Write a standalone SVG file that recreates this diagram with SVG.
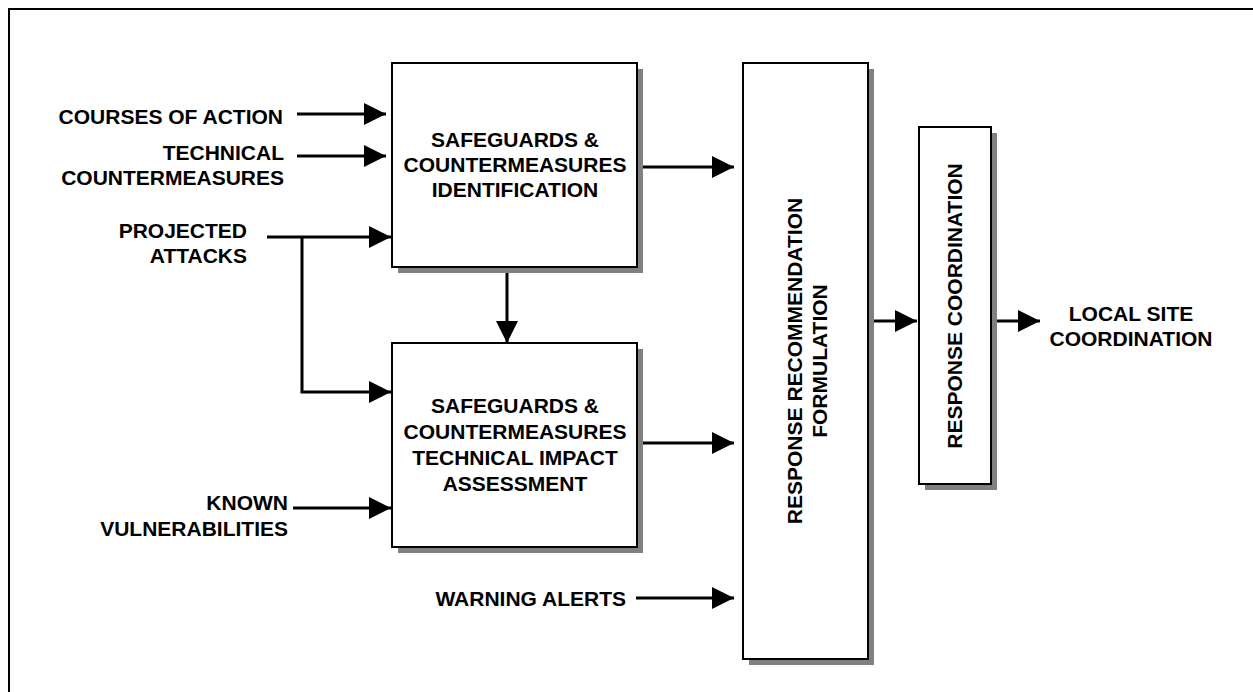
<svg xmlns="http://www.w3.org/2000/svg" width="1253" height="692" viewBox="0 0 1253 692">
<style>
text{font-family:"Liberation Sans",Arial,sans-serif;font-weight:bold;font-size:21px;fill:#000}
.box{fill:#fff;stroke:#000;stroke-width:2}
.sh{fill:#808080}
.ln{fill:none;stroke:#000;stroke-width:3}
.m{text-anchor:middle}
.e{text-anchor:end}
</style>
<defs>
<marker id="ah" markerUnits="userSpaceOnUse" markerWidth="22" markerHeight="22" refX="22" refY="11" orient="auto" viewBox="0 0 22 22">
<path d="M0,0 L22,11 L0,22 z" fill="#000"/>
</marker>
</defs>
<rect width="1253" height="692" fill="#fff"/>
<path d="M9,692 L9,9 L1253,9" fill="none" stroke="#000" stroke-width="2"/>

<g id="connectors">
<line class="ln" x1="297" y1="114" x2="386" y2="114" marker-end="url(#ah)"/>
<line class="ln" x1="297" y1="156" x2="386" y2="156" marker-end="url(#ah)"/>
<line class="ln" x1="267" y1="237" x2="391" y2="237" marker-end="url(#ah)"/>
<polyline class="ln" points="302,237 302,392 391,392" marker-end="url(#ah)"/>
<line class="ln" x1="293" y1="508" x2="391" y2="508" marker-end="url(#ah)"/>
<line class="ln" x1="507" y1="272" x2="507" y2="343" marker-end="url(#ah)"/>
<line class="ln" x1="643" y1="167" x2="734" y2="167" marker-end="url(#ah)"/>
<line class="ln" x1="643" y1="443" x2="734" y2="443" marker-end="url(#ah)"/>
<line class="ln" x1="636" y1="598" x2="734" y2="598" marker-end="url(#ah)"/>
<line class="ln" x1="874" y1="321" x2="917" y2="321" marker-end="url(#ah)"/>
<line class="ln" x1="997" y1="321" x2="1040" y2="321" marker-end="url(#ah)"/>
</g>

<g id="labels">
<text class="e" x="283" y="124">COURSES OF ACTION</text>
<text class="e" x="284" y="160">TECHNICAL</text>
<text class="e" x="284" y="185">COUNTERMEASURES</text>
<text class="e" x="247" y="238">PROJECTED</text>
<text class="e" x="247" y="263">ATTACKS</text>
<text class="e" x="288" y="510">KNOWN</text>
<text class="e" x="288" y="536">VULNERABILITIES</text>
<text class="e" x="626" y="606">WARNING ALERTS</text>
<text class="m" x="1131" y="321">LOCAL SITE</text>
<text class="m" x="1131" y="346">COORDINATION</text>
</g>

<g id="node-identification">
<rect class="sh" x="398" y="69" width="245" height="204"/>
<rect class="box" x="392" y="63" width="245" height="204"/>
<text class="m" x="515" y="147">SAFEGUARDS &amp;</text>
<text class="m" x="515" y="172">COUNTERMEASURES</text>
<text class="m" x="515" y="197">IDENTIFICATION</text>
</g>

<g id="node-impact">
<rect class="sh" x="398" y="349" width="245" height="204"/>
<rect class="box" x="392" y="343" width="245" height="204"/>
<text class="m" x="515" y="413">SAFEGUARDS &amp;</text>
<text class="m" x="515" y="439">COUNTERMEASURES</text>
<text class="m" x="515" y="465">TECHNICAL IMPACT</text>
<text class="m" x="515" y="491">ASSESSMENT</text>
</g>

<g id="node-recommendation">
<rect class="sh" x="749" y="69" width="125" height="596"/>
<rect class="box" x="743" y="63" width="125" height="596"/>
<text class="m" transform="translate(802,361) rotate(-90)">RESPONSE RECOMMENDATION</text>
<text class="m" transform="translate(827,361) rotate(-90)">FORMULATION</text>
</g>

<g id="node-coordination">
<rect class="sh" x="925" y="133" width="72" height="357"/>
<rect class="box" x="919" y="127" width="72" height="357"/>
<text class="m" transform="translate(962,306) rotate(-90)">RESPONSE COORDINATION</text>
</g>
</svg>
